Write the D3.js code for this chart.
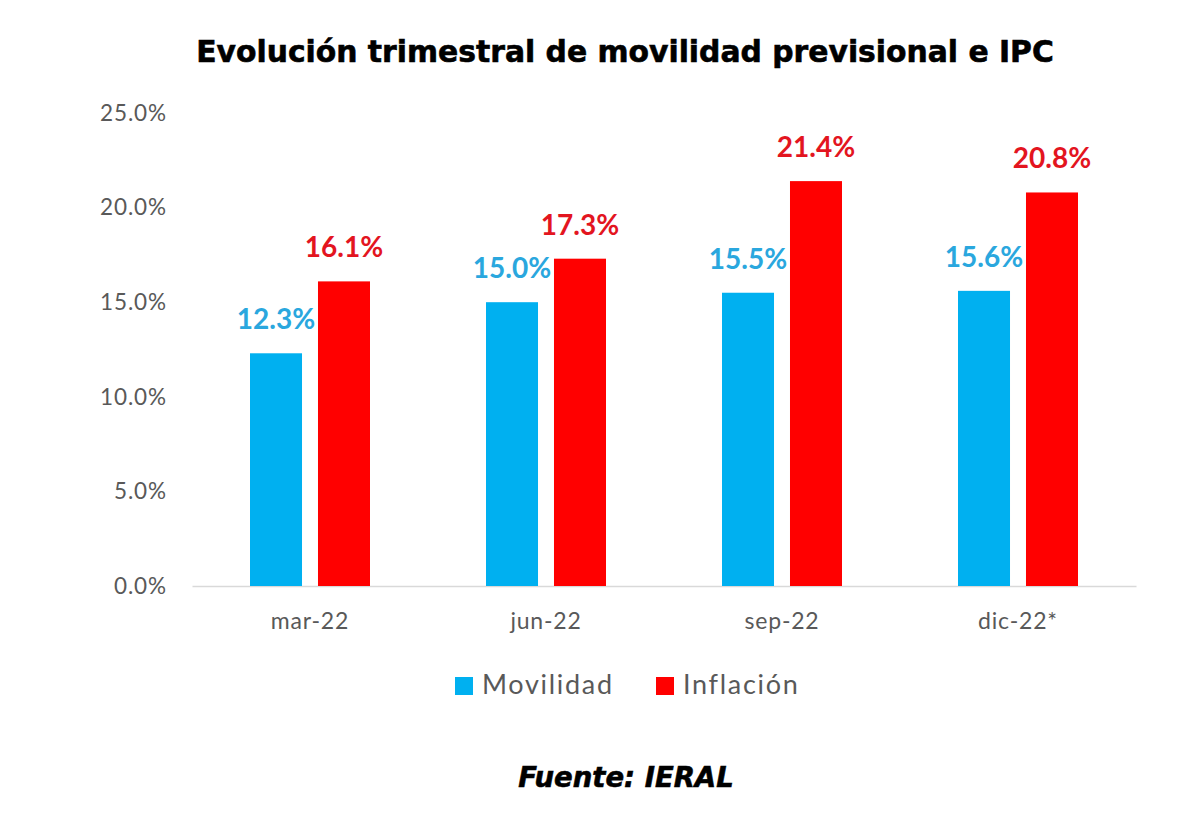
<!DOCTYPE html>
<html>
<head>
<meta charset="utf-8">
<script src="https://cdn.jsdelivr.net/npm/d3@7"></script>
<style>
  body { margin: 0; background: #fff; }
  svg text { font-family: Lato, "Open Sans", sans-serif; }
</style>
</head>
<body>
<div id="chart"></div>
<script>
// data
var categories = ["mar-22", "jun-22", "sep-22", "dic-22*"];
var seriesNames = ["Movilidad", "Inflación"];
var movilidad = [12.3, 15.0, 15.5, 15.6];
var inflacion = [16.1, 17.3, 21.4, 20.8];
var yTicks = [0, 5, 10, 15, 20, 25];

var colors = ["#00B0F0", "#FF0000"],
    labelColors = ["#2AA7DE", "#E3151F"];

var width = 1200, height = 822,
    plotLeft = 192, plotRight = 1136, plotTop = 113, plotBottom = 586,
    groupWidth = 120;

var svg = d3.select("#chart").append("svg")
    .attr("width", width)
    .attr("height", height);

// title
svg.append("text")
    .attr("x", 625).attr("y", 62)
    .attr("text-anchor", "middle")
    .style("font-family", "'DejaVu Sans', Verdana, sans-serif")
    .style("font-weight", "bold")
    .style("font-size", "29.8px")
    .style("fill", "#000")
    .style("stroke", "#000")
    .style("stroke-width", "0.6px")
    .text("Evolución trimestral de movilidad previsional e IPC");

var x0 = d3.scaleBand().domain(categories).range([plotLeft, plotRight]);
var x1 = d3.scaleBand().domain(seriesNames).range([0, groupWidth]).paddingInner(0.235);
var y = d3.scaleLinear().domain([0, 25]).range([plotBottom, plotTop]);

// y axis labels
var yAxis = svg.append("g")
    .attr("transform", "translate(" + (plotLeft - 25) + ",0)")
    .call(d3.axisLeft(y).tickValues(yTicks).tickSize(0).tickPadding(0)
      .tickFormat(function(d) { return d3.format(".1f")(d) + "%"; }));
yAxis.select(".domain").remove();
yAxis.selectAll("text")
    .style("font-family", "Lato, sans-serif")
    .style("font-size", "22.5px")
    .style("letter-spacing", "0.9px")
    .style("fill", "#595959");

// x axis
var xAxis = svg.append("g")
    .attr("transform", "translate(0," + plotBottom + ")")
    .call(d3.axisBottom(x0).tickSize(0).tickPadding(27));
xAxis.select(".domain").attr("stroke", "#D9D9D9").attr("stroke-width", 1.5);
xAxis.selectAll("text")
    .style("font-family", "Lato, sans-serif")
    .style("font-size", "23px")
    .style("letter-spacing", "0.8px")
    .style("fill", "#595959");

// bars
var rows = categories.map(function(c, i) {
  return { cat: c, values: [
    { name: seriesNames[0], value: movilidad[i], k: 0 },
    { name: seriesNames[1], value: inflacion[i], k: 1 }
  ]};
});

var groups = svg.selectAll(".group")
    .data(rows)
    .enter().append("g")
      .attr("class", "group")
      .attr("transform", function(d) {
        return "translate(" + (x0(d.cat) + (x0.bandwidth() - groupWidth) / 2) + ",0)";
      });

groups.selectAll("rect")
    .data(function(d) { return d.values; })
    .enter().append("rect")
      .attr("x", function(d) { return x1(d.name); })
      .attr("y", function(d) { return y(d.value); })
      .attr("width", x1.bandwidth())
      .attr("height", function(d) { return plotBottom - y(d.value); })
      .style("fill", function(d) { return colors[d.k]; });

groups.selectAll(".lbl")
    .data(function(d) { return d.values; })
    .enter().append("text")
      .attr("class", "lbl")
      .attr("x", function(d) { return x1(d.name) + x1.bandwidth() / 2; })
      .attr("y", function(d) { return y(d.value) - 24; })
      .attr("text-anchor", "middle")
      .style("font-family", "Lato, sans-serif")
      .style("font-weight", "bold")
      .style("font-size", "28px")
      .style("fill", function(d) { return labelColors[d.k]; })
      .text(function(d) { return d3.format(".1f")(d.value) + "%"; });

// legend
var legendX = [455, 656];
var legend = svg.selectAll(".legend")
    .data(seriesNames)
    .enter().append("g")
      .attr("class", "legend")
      .attr("transform", function(d, i) { return "translate(" + legendX[i] + ",677)"; });

legend.append("rect")
    .attr("width", 18).attr("height", 18)
    .style("fill", function(d, i) { return colors[i]; });

legend.append("text")
    .attr("x", 27).attr("y", 17)
    .style("font-family", "Lato, sans-serif")
    .style("font-size", "27px")
    .style("letter-spacing", "1.7px")
    .style("fill", "#595959")
    .text(function(d) { return d; });

// source
svg.append("text")
    .attr("x", 626).attr("y", 787)
    .attr("text-anchor", "middle")
    .style("font-family", "'DejaVu Sans', Verdana, sans-serif")
    .style("font-weight", "bold")
    .style("font-style", "italic")
    .style("font-size", "27.5px")
    .style("fill", "#000")
    .style("stroke", "#000")
    .style("stroke-width", "0.6px")
    .text("Fuente: IERAL");
</script>
</body>
</html>
